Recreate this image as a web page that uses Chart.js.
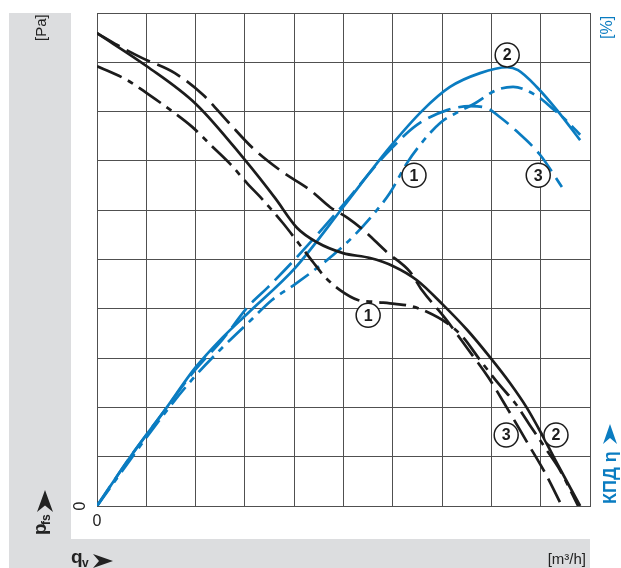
<!DOCTYPE html>
<html>
<head>
<meta charset="utf-8">
<script src="https://cdn.jsdelivr.net/npm/chart.js@4.4.1/dist/chart.umd.min.js"></script>
<style>
  html, body { margin: 0; padding: 0; background: #fff; }
  canvas { display: block; }
</style>
</head>
<body>
<canvas id="fan-chart" width="621" height="568"></canvas>
<script>
// grid units: 10 x 10 cells
const pressSolidX = [0, 1.01, 2.01, 3.00, 3.61, 4.06, 4.46, 4.99, 5.54, 6.00, 6.49, 7.02, 7.51, 7.97, 8.38, 8.72, 9.03, 9.33, 9.80];
const pressSolidY = [9.59, 8.92, 8.15, 7.02, 6.25, 5.64, 5.35, 5.13, 5.03, 4.87, 4.58, 4.08, 3.57, 3.02, 2.49, 1.99, 1.44, 0.87, 0];

const pressDashX = [0, 0.41, 0.91, 1.58, 2.15, 2.66, 3.16, 3.77, 4.32, 4.73, 5.09, 5.40, 5.88, 6.35, 6.59, 7.06, 7.51, 7.93, 8.34, 8.72, 9.09, 9.43];
const pressDashY = [9.59, 9.35, 9.09, 8.78, 8.34, 7.79, 7.26, 6.77, 6.41, 6.06, 5.84, 5.60, 5.15, 4.75, 4.38, 3.81, 3.20, 2.62, 1.95, 1.30, 0.67, 0];

const pressDotX = [0, 0.61, 1.03, 1.52, 1.93, 2.33, 2.70, 3.06, 3.31, 3.77, 4.12, 4.38, 4.62, 4.93, 5.29, 5.64, 6.04, 6.35, 6.69, 7.10, 7.42, 7.77, 8.17, 8.48, 8.78, 9.09, 9.39, 9.76];
const pressDotY = [8.92, 8.64, 8.36, 8.01, 7.69, 7.30, 6.94, 6.53, 6.27, 5.74, 5.29, 4.95, 4.65, 4.38, 4.18, 4.14, 4.10, 4.06, 3.94, 3.71, 3.43, 2.96, 2.45, 2.09, 1.64, 1.18, 0.73, 0];

const effSolidX = [0, 0.67, 1.38, 1.99, 2.54, 3.06, 4.02, 4.99, 5.94, 6.61, 7.16, 7.77, 8.32, 8.54, 8.92, 9.33, 9.80];
const effSolidY = [0, 0.99, 1.95, 2.80, 3.41, 3.91, 4.83, 6.06, 7.28, 8.03, 8.50, 8.78, 8.90, 8.84, 8.50, 8.03, 7.42];

const effDashX = [0, 0.67, 1.38, 1.99, 2.54, 3.06, 3.47, 4.02, 5.13, 5.58, 5.94, 6.49, 7.10, 7.57, 7.91, 8.17, 8.48, 8.99, 9.43];
const effDashY = [0, 0.99, 1.95, 2.76, 3.37, 4.04, 4.44, 5.01, 6.27, 6.82, 7.22, 7.73, 8.03, 8.11, 8.07, 7.89, 7.63, 7.12, 6.47];

const effDotX = [0, 1.22, 1.89, 2.49, 3.08, 3.55, 4.02, 4.79, 5.19, 5.54, 5.94, 6.29, 6.55, 6.96, 7.32, 7.67, 8.11, 8.44, 8.95, 9.23, 9.55, 9.80];
const effDotY = [0, 1.68, 2.52, 3.16, 3.73, 4.18, 4.50, 5.09, 5.46, 5.84, 6.35, 6.96, 7.32, 7.77, 7.99, 8.17, 8.44, 8.50, 8.30, 8.07, 7.79, 7.53];

// curve numbers and where they sit (grid units)
const tagNames = ['1', '3', '2', '1', '2', '3'];
const tagX = [5.50, 8.30, 9.31, 6.43, 8.32, 8.95];
const tagY = [3.87, 1.44, 1.44, 6.71, 9.15, 6.71];

const BLACK = '#1c1c1c';
const BLUE = '#0a7cc1';
const GRID = '#505050';
const PANEL = '#dcdddf';
const FONT = '"Liberation Sans Narrow", "Liberation Sans", Arial, sans-serif';

const pts = (xs, ys) => xs.map((x, i) => ({ x, y: ys[i] }));

function curve(label, xs, ys, color, dash) {
  return {
    label,
    data: pts(xs, ys),
    borderColor: color,
    borderWidth: 2.7,
    borderDash: dash,
    pointRadius: 0,
    fill: false,
    cubicInterpolationMode: 'monotone'
  };
}

function vText(ctx, txt, x, y, font, color, align) {
  ctx.save();
  ctx.translate(x, y);
  ctx.rotate(-Math.PI / 2);
  ctx.font = font;
  ctx.fillStyle = color;
  ctx.textAlign = align || 'left';
  ctx.textBaseline = 'alphabetic';
  ctx.fillText(txt, 0, 0);
  ctx.restore();
}

function arrowHead(ctx, x, y, len, half, dir, color) {
  // dir 'right' or 'up'; (x, y) is the tip
  ctx.save();
  ctx.fillStyle = color;
  ctx.beginPath();
  if (dir === 'right') {
    ctx.moveTo(x, y);
    ctx.lineTo(x - len, y - half);
    ctx.lineTo(x - len * 0.7, y);
    ctx.lineTo(x - len, y + half);
  } else {
    ctx.moveTo(x, y);
    ctx.lineTo(x - half, y + len);
    ctx.lineTo(x, y + len * 0.7);
    ctx.lineTo(x + half, y + len);
  }
  ctx.closePath();
  ctx.fill();
  ctx.restore();
}

const panels = {
  id: 'panels',
  beforeDraw(c) {
    const ctx = c.ctx;
    ctx.save();
    ctx.fillStyle = '#fff';
    ctx.fillRect(0, 0, c.width, c.height);
    ctx.fillStyle = PANEL;
    ctx.fillRect(9, 13, 62, 555);
    ctx.fillRect(9, 539, 581, 29);
    ctx.restore();
  }
};

const annotations = {
  id: 'annotations',
  afterDraw(c) {
    const ctx = c.ctx;
    const { left, bottom } = c.chartArea;
    const xs = c.scales.x, ys = c.scales.y;

    // axis zeros
    ctx.save();
    ctx.font = '16px ' + FONT;
    ctx.fillStyle = '#222';
    ctx.textAlign = 'center';
    ctx.textBaseline = 'middle';
    ctx.fillText('0', left, bottom + 16);
    ctx.restore();
    ctx.save();
    ctx.translate(left - 16, bottom);
    ctx.rotate(-Math.PI / 2);
    ctx.font = '16px ' + FONT;
    ctx.fillStyle = '#222';
    ctx.textAlign = 'center';
    ctx.textBaseline = 'middle';
    ctx.fillText('0', 0, 0);
    ctx.restore();

    // units and axis names
    vText(ctx, '[Pa]', 46, 41, '15px ' + FONT, '#222');
    vText(ctx, 'p', 46, 535, 'bold 19px ' + FONT, '#222');
    vText(ctx, 'fs', 50, 525, 'bold 12px ' + FONT, '#222');
    arrowHead(ctx, 45, 490, 22, 8, 'up', '#222');

    ctx.save();
    ctx.font = 'bold 19px ' + FONT;
    ctx.fillStyle = '#222';
    ctx.textBaseline = 'alphabetic';
    ctx.fillText('q', 71, 563);
    ctx.font = 'bold 12px ' + FONT;
    ctx.fillText('v', 82, 567);
    ctx.restore();
    arrowHead(ctx, 113, 561, 20, 7, 'right', '#222');

    ctx.save();
    ctx.font = '15px ' + FONT;
    ctx.fillStyle = '#222';
    ctx.textAlign = 'right';
    ctx.fillText('[m³/h]', 586, 564);
    ctx.restore();

    vText(ctx, '[%]', 612, 39, '16px ' + FONT, BLUE);
    vText(ctx, 'КПД η', 616, 504, 'bold 18px ' + FONT, BLUE);
    arrowHead(ctx, 610, 424, 20, 7, 'up', BLUE);

    // numbered circles
    tagNames.forEach((t, i) => {
      const px = xs.getPixelForValue(tagX[i]);
      const py = ys.getPixelForValue(tagY[i]);
      ctx.save();
      ctx.beginPath();
      ctx.arc(px, py, 12, 0, Math.PI * 2);
      ctx.fillStyle = '#fff';
      ctx.fill();
      ctx.lineWidth = 1.5;
      ctx.strokeStyle = BLACK;
      ctx.stroke();
      ctx.font = 'bold 16px ' + FONT;
      ctx.fillStyle = BLACK;
      ctx.textAlign = 'center';
      ctx.textBaseline = 'middle';
      ctx.fillText(t, px, py + 1);
      ctx.restore();
    });
  }
};

const axisCommon = {
  type: 'linear',
  min: 0,
  max: 10,
  ticks: { display: false, stepSize: 1 },
  grid: { color: GRID, lineWidth: 1, drawTicks: false },
  border: { color: GRID, width: 1 }
};

new Chart(document.getElementById('fan-chart'), {
  type: 'line',
  data: {
    datasets: [
      curve('p solid', pressSolidX, pressSolidY, BLACK, []),
      curve('p dash', pressDashX, pressDashY, BLACK, [26, 8]),
      curve('p dashdot', pressDotX, pressDotY, BLACK, [27, 7, 6, 7]),
      curve('eta solid', effSolidX, effSolidY, BLUE, []),
      curve('eta dash', effDashX, effDashY, BLUE, [24, 8]),
      curve('eta dashdot', effDotX, effDotY, BLUE, [22, 7, 6, 7])
    ]
  },
  options: {
    responsive: false,
    animation: false,
    layout: { padding: { left: 97, top: 13, right: 31, bottom: 62 } },
    plugins: { legend: { display: false }, tooltip: { enabled: false } },
    scales: { x: axisCommon, y: axisCommon }
  },
  plugins: [panels, annotations]
});
</script>
</body>
</html>
